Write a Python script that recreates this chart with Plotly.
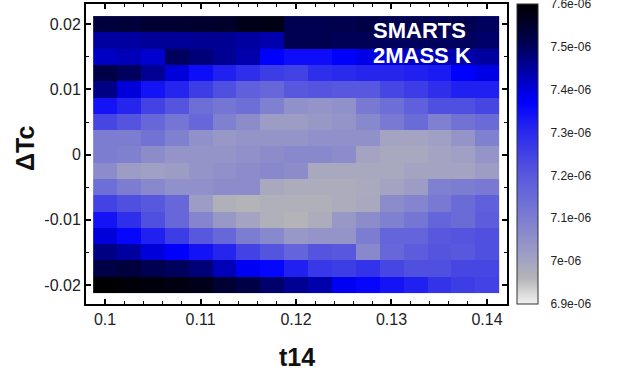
import numpy as np
import plotly.graph_objects as go

# t14 bin centres (x) and delta Tc bin centres (y, top row first)
t14 = [0.1, 0.1025, 0.105, 0.1075, 0.11, 0.1125, 0.115, 0.1175, 0.12,
       0.1225, 0.125, 0.1275, 0.13, 0.1325, 0.135, 0.1375, 0.14]
dtc_top_down = [0.02, 0.0175, 0.015, 0.0125, 0.01, 0.0075, 0.005, 0.0025, 0.0,
                -0.0025, -0.005, -0.0075, -0.01, -0.0125, -0.015, -0.0175, -0.02]

# values in units of 1e-6, one list per row, top (dTc=0.02) to bottom (dTc=-0.02)
row_p0200 = [7.53, 7.535, 7.54, 7.543, 7.546, 7.55, 7.57, 7.575, 7.51, 7.51, 7.515, 7.52, 7.51, 7.51, 7.51, 7.51, 7.50]
row_p0175 = [7.45, 7.45, 7.455, 7.455, 7.46, 7.46, 7.45, 7.44, 7.51, 7.51, 7.505, 7.505, 7.50, 7.50, 7.50, 7.50, 7.49]
row_p0150 = [7.42, 7.43, 7.41, 7.50, 7.48, 7.46, 7.44, 7.37, 7.35, 7.35, 7.37, 7.39, 7.40, 7.42, 7.43, 7.44, 7.45]
row_p0125 = [7.52, 7.50, 7.46, 7.40, 7.35, 7.32, 7.29, 7.26, 7.25, 7.29, 7.30, 7.31, 7.31, 7.32, 7.33, 7.37, 7.39]
row_p0100 = [7.47, 7.40, 7.34, 7.31, 7.26, 7.22, 7.18, 7.16, 7.20, 7.21, 7.20, 7.20, 7.24, 7.26, 7.29, 7.32, 7.32]
row_p0075 = [7.34, 7.31, 7.25, 7.21, 7.14, 7.12, 7.14, 7.09, 7.05, 7.04, 7.05, 7.11, 7.14, 7.18, 7.22, 7.22, 7.24]
row_p0050 = [7.24, 7.21, 7.16, 7.12, 7.16, 7.09, 7.06, 7.02, 7.02, 7.03, 7.04, 7.07, 7.11, 7.15, 7.09, 7.13, 7.15]
row_p0025 = [7.10, 7.10, 7.13, 7.09, 7.05, 7.03, 7.04, 7.04, 7.04, 7.05, 7.05, 7.05, 7.00, 7.00, 7.01, 7.04, 7.09]
row_0000 = [7.10, 7.09, 7.06, 7.04, 7.04, 7.04, 7.05, 7.06, 7.07, 7.07, 7.06, 7.00, 6.99, 6.99, 7.00, 7.01, 7.04]
row_m0025 = [7.06, 7.02, 7.01, 7.02, 7.04, 7.05, 7.06, 7.07, 7.06, 6.99, 6.99, 6.99, 6.99, 7.00, 7.00, 7.00, 7.02]
row_m0050 = [7.14, 7.10, 7.07, 7.05, 7.05, 7.06, 7.06, 6.99, 6.98, 6.98, 6.98, 6.985, 7.00, 7.02, 7.09, 7.10, 7.11]
row_m0075 = [7.25, 7.22, 7.20, 7.16, 7.02, 6.97, 6.96, 6.97, 6.97, 6.97, 6.98, 6.99, 7.06, 7.08, 7.11, 7.15, 7.18]
row_m0100 = [7.34, 7.29, 7.22, 7.16, 7.08, 7.03, 7.00, 6.97, 6.96, 6.98, 7.03, 7.06, 7.09, 7.12, 7.17, 7.15, 7.19]
row_m0125 = [7.40, 7.36, 7.32, 7.26, 7.20, 7.16, 7.10, 7.07, 7.03, 7.04, 7.04, 7.10, 7.17, 7.17, 7.20, 7.21, 7.22]
row_m0150 = [7.47, 7.45, 7.40, 7.37, 7.34, 7.31, 7.25, 7.21, 7.17, 7.21, 7.20, 7.07, 7.16, 7.19, 7.21, 7.20, 7.22]
row_m0175 = [7.52, 7.53, 7.51, 7.50, 7.48, 7.43, 7.38, 7.36, 7.32, 7.27, 7.26, 7.28, 7.24, 7.22, 7.22, 7.24, 7.24]
row_m0200 = [7.60, 7.59, 7.585, 7.58, 7.57, 7.54, 7.52, 7.49, 7.46, 7.44, 7.38, 7.36, 7.34, 7.32, 7.28, 7.26, 7.25]

rows_top_down = [row_p0200, row_p0175, row_p0150, row_p0125, row_p0100, row_p0075,
                 row_p0050, row_p0025, row_0000, row_m0025, row_m0050, row_m0075,
                 row_m0100, row_m0125, row_m0150, row_m0175, row_m0200]

cbar_vals = [6.9, 7.0, 7.1, 7.2, 7.3, 7.4, 7.5, 7.6]
cbar_text = ["6.9e-06", "7e-06", "7.1e-06", "7.2e-06", "7.3e-06", "7.4e-06", "7.5e-06", "7.6e-06"]
x_ticks = [0.1, 0.11, 0.12, 0.13, 0.14]
x_ticktext = ["0.1", "0.11", "0.12", "0.13", "0.14"]
y_ticks = [-0.02, -0.01, 0.0, 0.01, 0.02]
y_ticktext = ["-0.02", "-0.01", "0", "0.01", "0.02"]
x_title = "t14"
y_title = "ΔTc"

SCALE = 1e-6
zmin, zmax = 6.9, 7.6

# colour stops (value in 1e-6, colour)
stops = [(6.90, "#f2f2f2"), (6.96, "#b4b4b8"), (7.01, "#a0a0c4"), (7.09, "#8080d0"),
         (7.18, "#6060dc"), (7.22, "#5050e0"), (7.32, "#2020f0"), (7.37, "#0000ff"),
         (7.45, "#0000a0"), (7.51, "#000050"), (7.60, "#000000")]
colorscale = [[(v - zmin) / (zmax - zmin), c] for v, c in stops]

y_vals = list(reversed(dtc_top_down))
z = np.array(list(reversed(rows_top_down))) * SCALE

# keep end ticks a hair inside the bar so they are not dropped
eps = 1e-4
cbar_tickvals = [min(max(v, zmin + eps), zmax - eps) * SCALE for v in cbar_vals]

FONT = "Liberation Sans, Arial, sans-serif"

PLOT_W = 621 - 86 - 114  # plot-area width in px
CB_X0 = 1.0238           # colour bar left edge (paper fraction)
CB_THICK = 21            # colour bar thickness (px)
CB_X1 = CB_X0 + CB_THICK / PLOT_W

fig = go.Figure(go.Heatmap(
    x=t14, y=y_vals, z=z,
    zmin=zmin * SCALE, zmax=zmax * SCALE,
    colorscale=colorscale,
    colorbar=dict(
        x=CB_X0, xanchor="left", xpad=0, ypad=0,
        y=0.5, yanchor="middle", len=1, lenmode="fraction",
        thickness=CB_THICK, outlinewidth=1, outlinecolor="#333",
        tickvals=cbar_tickvals, ticktext=cbar_text,
        ticks="outside", ticklen=10, tickcolor="rgba(0,0,0,0)", tickwidth=1,
        ticklabeloverflow="allow",
        tickfont=dict(family=FONT, size=12, color="#222"),
    ),
))

# short inward tick marks on both sides of the colour bar (interior values)
for v in cbar_vals[1:-1]:
    yp = (v - zmin) / (zmax - zmin)
    for xa, xb in [(CB_X0, CB_X0 + 5 / PLOT_W), (CB_X1 - 5 / PLOT_W, CB_X1)]:
        fig.add_shape(type="line", xref="paper", yref="paper",
                      x0=xa, x1=xb, y0=yp, y1=yp,
                      line=dict(color="black", width=1.5), layer="above")

fig.add_annotation(x=0.676, y=0.91, xref="paper", yref="paper",
                   xanchor="left", yanchor="middle", showarrow=False,
                   text="<b>SMARTS</b>", font=dict(family=FONT, size=22, color="white"))
fig.add_annotation(x=0.676, y=0.83, xref="paper", yref="paper",
                   xanchor="left", yanchor="middle", showarrow=False,
                   text="<b>2MASS K</b>", font=dict(family=FONT, size=22, color="white"))

# axis titles
fig.add_annotation(x=0.5, y=-0.178, xref="paper", yref="paper",
                   xanchor="center", yanchor="middle", showarrow=False,
                   text=f"<b>{x_title}</b>", font=dict(family=FONT, size=25, color="#111"))
fig.add_annotation(x=-0.145, y=0.52, xref="paper", yref="paper", textangle=-90,
                   xanchor="center", yanchor="middle", showarrow=False,
                   text=f"<b>{y_title}</b>", font=dict(family=FONT, size=25, color="#111"))

axis_common = dict(showline=True, linewidth=2, linecolor="black", mirror="ticks",
                   ticks="inside", ticklen=5, tickwidth=1.5, tickcolor="black",
                   showgrid=False, zeroline=False, automargin=False,
                   tickfont=dict(family=FONT, size=16, color="#222"))

fig.update_layout(
    width=621, height=376,
    margin=dict(l=86, r=114, t=4, b=72, autoexpand=False),
    paper_bgcolor="white", plot_bgcolor="white",
    xaxis=dict(range=[0.098, 0.1421], tickvals=x_ticks, ticktext=x_ticktext,
               minor=dict(dtick=0.002, tick0=0.1, ticks="inside", ticklen=3, tickcolor="black", tickwidth=1),
               **axis_common),
    yaxis=dict(range=[-0.0229, 0.0231], tickvals=y_ticks, ticktext=y_ticktext,
               minor=dict(dtick=0.005, tick0=0, ticks="inside", ticklen=3, tickcolor="black", tickwidth=1),
               **axis_common),
)

fig.write_html("out.html", config={"displayModeBar": False},
               post_script="document.body.style.margin='0';document.body.style.overflow='hidden';")
